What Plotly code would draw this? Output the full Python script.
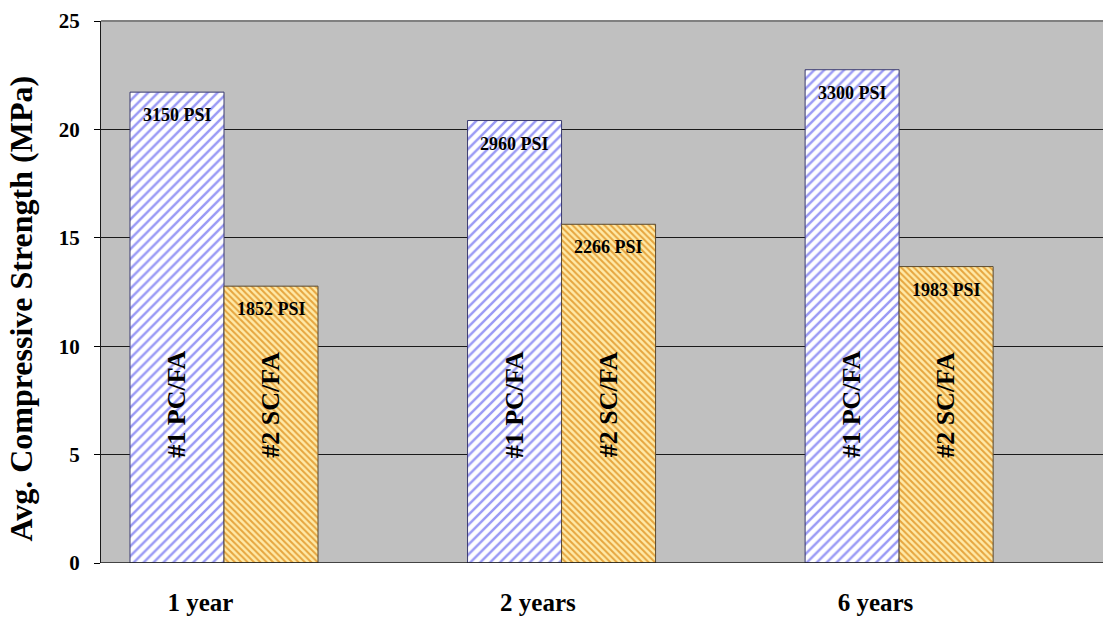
import plotly.graph_objects as go

# Compressive strength of the two mixes at three ages
ages = ["1 year", "2 years", "6 years"]
mix_names = ["#1 PC/FA", "#2 SC/FA"]
pc_fa_psi = [3150, 2960, 3300]
sc_fa_psi = [1852, 2266, 1983]

PSI_TO_MPA = 0.00689476
pc_fa_mpa = [p * PSI_TO_MPA for p in pc_fa_psi]
sc_fa_mpa = [p * PSI_TO_MPA for p in sc_fa_psi]

pos = list(range(len(ages)))
bar_w = 0.2785
serif = "Liberation Serif"

fig = go.Figure()
fig.add_trace(go.Bar(
    x=pos, y=pc_fa_mpa, width=bar_w, offset=-bar_w, name=mix_names[0],
    marker=dict(
        color="white",
        line=dict(color="#3a3a70", width=1),
        pattern=dict(shape="/", fgcolor="#9a9af5", bgcolor="white",
                     size=7, solidity=0.35, fillmode="replace"),
    ),
))
fig.add_trace(go.Bar(
    x=pos, y=sc_fa_mpa, width=bar_w, offset=0, name=mix_names[1],
    marker=dict(
        color="#ffe7a3",
        line=dict(color="#5a4a30", width=1),
        pattern=dict(shape="\\", fgcolor="#e6a53e", bgcolor="#ffeaa8",
                     size=4.5, solidity=0.45, fillmode="replace"),
    ),
))

annotations = []
for i in pos:
    for vals, psi, xc, name in (
        (pc_fa_mpa, pc_fa_psi, i - bar_w / 2, mix_names[0]),
        (sc_fa_mpa, sc_fa_psi, i + bar_w / 2, mix_names[1]),
    ):
        # value label just under the top of each bar
        annotations.append(dict(
            x=xc, y=vals[i], xref="x", yref="y", text=f"<b>{psi[i]} PSI</b>",
            showarrow=False, yanchor="top", yshift=-11,
            font=dict(family=serif, size=18, color="black"),
        ))
        # mix name written vertically inside the bar
        annotations.append(dict(
            x=xc, y=7.3, xref="x", yref="y", text=f"<b>{name}</b>",
            showarrow=False, textangle=-90,
            font=dict(family=serif, size=26, color="black"),
        ))

annotations.append(dict(
    x=-0.0795, y=0.47, xref="paper", yref="paper",
    text="<b>Avg. Compressive Strength (MPa)</b>", showarrow=False,
    textangle=-90, xanchor="center", yanchor="middle",
    font=dict(family=serif, size=32, color="black"),
))

fig.update_layout(
    width=1103, height=618,
    margin=dict(l=101, r=0, t=21, b=55),
    paper_bgcolor="white", plot_bgcolor="#c0c0c0",
    showlegend=False, barmode="overlay",
    annotations=annotations,
    shapes=[dict(type="line", xref="paper", yref="paper", x0=0, x1=1, y0=1, y1=1,
                 line=dict(color="#808080", width=2))],
)
fig.update_xaxes(
    range=[-0.3644, 2.604], tickvals=[p - 0.07 for p in pos], ticktext=ages,
    ticks="", showgrid=False, zeroline=False, showline=False,
    tickfont=dict(family=serif, size=25, color="black", weight="bold"),
    ticklabelstandoff=22,
)
fig.update_yaxes(
    range=[0, 25], dtick=5, ticks="outside", ticklen=6, tickcolor="black",
    showgrid=True, gridcolor="#1a1a1a", gridwidth=1, zeroline=False,
    showline=True, linecolor="#1a1a1a", linewidth=1,
    tickfont=dict(family=serif, size=21, color="black", weight="bold"),
    ticklabelstandoff=10,
)
fig.add_hline(y=0, line=dict(color="#1a1a1a", width=1.5))

fig.write_html("out.html")
